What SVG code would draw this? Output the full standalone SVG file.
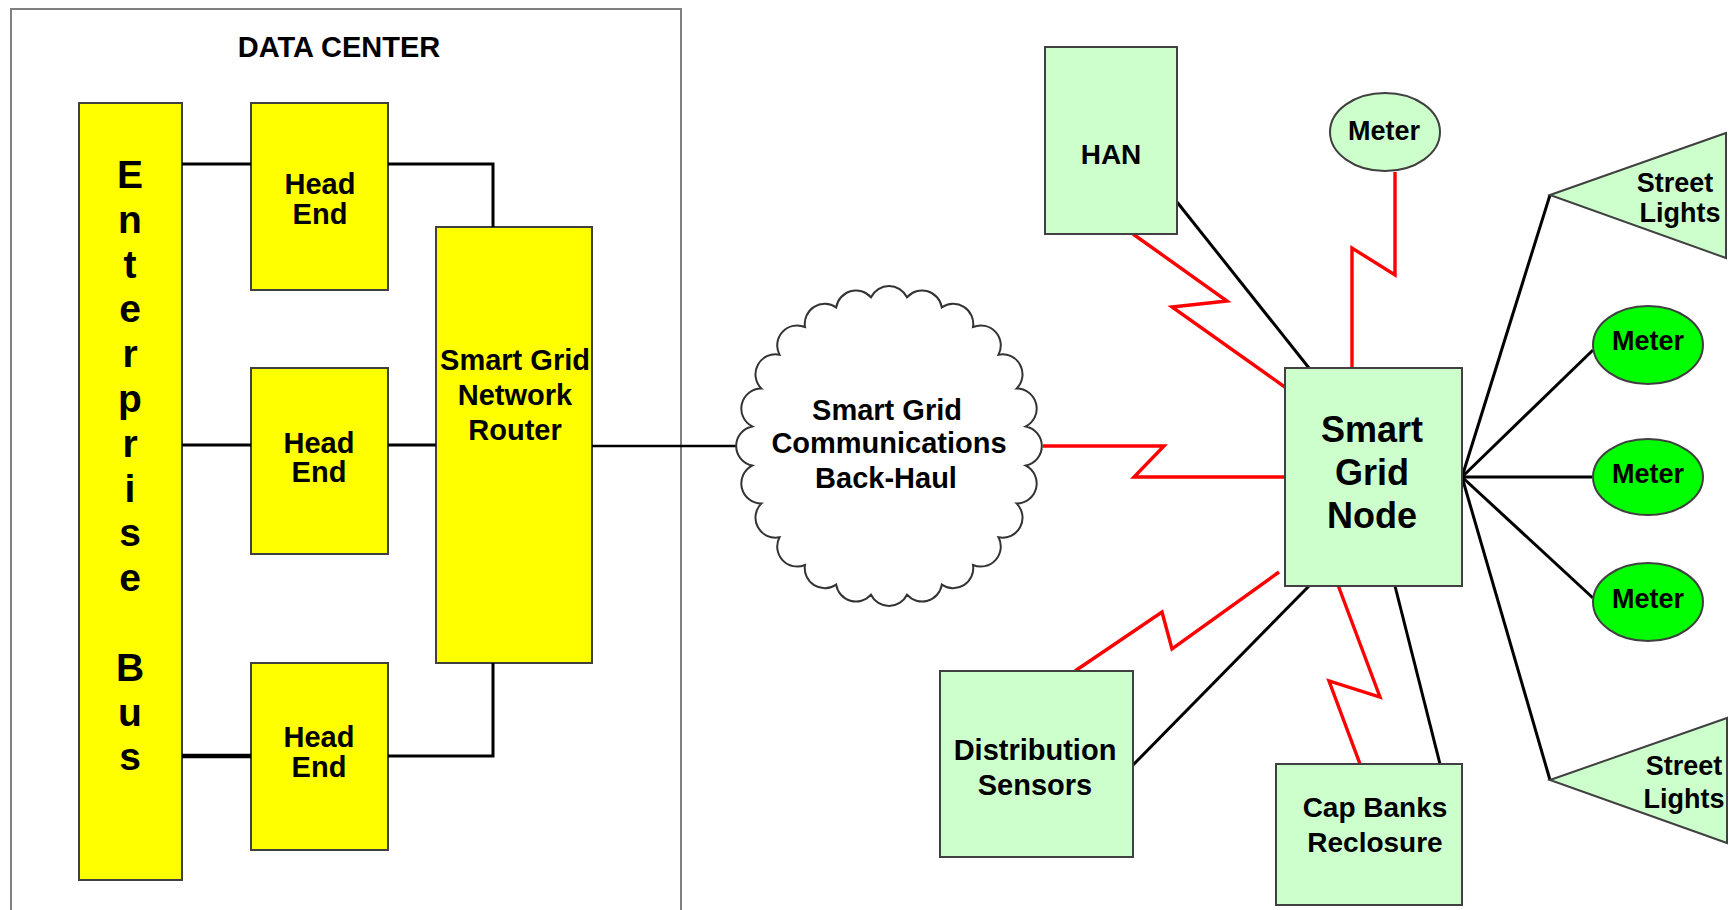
<svg xmlns="http://www.w3.org/2000/svg" width="1730" height="910" viewBox="0 0 1730 910">
<style>
text{font-family:"Liberation Sans",Arial,sans-serif;font-weight:bold;fill:#000;text-anchor:middle}
.yb{fill:#ffff00;stroke:#404040;stroke-width:2}
.gb{fill:#ccffcc;stroke:#404040;stroke-width:2}
.gm{fill:#00ff00;stroke:#404040;stroke-width:2}
.ln{fill:none;stroke:#000;stroke-width:3;stroke-linejoin:miter}
.rz{fill:none;stroke:#ff0000;stroke-width:3.4;stroke-linejoin:miter}
.f29{font-size:29px}
.f28{font-size:28px}
.f27{font-size:27px}
</style>
<rect width="1730" height="910" fill="#fff"/>
<g id="data-center">
<rect x="11" y="9" width="670" height="920" fill="#fff" stroke="#808080" stroke-width="2"/>
<text class="f29" x="339" y="57">DATA CENTER</text>
</g>
<g id="enterprise-bus">
<rect class="yb" x="79" y="103" width="103" height="777"/>
<g style="font-size:39px">
<text x="130" y="188">E</text>
<text x="130" y="232.8">n</text>
<text x="130" y="277.6">t</text>
<text x="130" y="322.4">e</text>
<text x="130" y="367.2">r</text>
<text x="130" y="412">p</text>
<text x="130" y="456.8">r</text>
<text x="130" y="501.6">i</text>
<text x="130" y="546.4">s</text>
<text x="130" y="591.2">e</text>
<text x="130" y="680.8">B</text>
<text x="130" y="725.6">u</text>
<text x="130" y="770.4">s</text>
</g>
</g>
<g id="head-end-1">
<rect class="yb" x="251" y="103" width="137" height="187"/>
<text class="f29" x="320" y="194">Head</text>
<text class="f29" x="320" y="224">End</text>
</g>
<g id="head-end-2">
<rect class="yb" x="251" y="368" width="137" height="186"/>
<text class="f29" x="319" y="453">Head</text>
<text class="f29" x="319" y="482">End</text>
</g>
<g id="head-end-3">
<rect class="yb" x="251" y="663" width="137" height="187"/>
<text class="f29" x="319" y="747">Head</text>
<text class="f29" x="319" y="777">End</text>
</g>
<g id="router">
<rect class="yb" x="436" y="227" width="156" height="436"/>
<text class="f29" x="515" y="370">Smart Grid</text>
<text class="f29" x="515" y="405">Network</text>
<text class="f29" x="515" y="440">Router</text>
</g>
<g id="connectors">
<polyline class="ln" points="182,164 251,164"/>
<polyline class="ln" points="388,164 493,164 493,227"/>
<polyline class="ln" points="182,445 251,445"/>
<polyline class="ln" points="388,445 436,445"/>
<polyline class="ln" points="592,446 736,446" style="stroke-width:2.4"/>
<polyline class="ln" points="182,756 251,756" style="stroke-width:4.5"/>
<polyline class="ln" points="388,756 493,756 493,663"/>
<polyline class="ln" points="1177,202 1309,368"/>
<polyline class="ln" points="1462,477 1550,195"/>
<polyline class="ln" points="1462,477 1593,350"/>
<polyline class="ln" points="1462,477 1592,477"/>
<polyline class="ln" points="1462,477 1593,598"/>
<polyline class="ln" points="1462,477 1550,780"/>
<polyline class="ln" points="1309,586 1133,765"/>
<polyline class="ln" points="1395,586 1440,764"/>
<polyline class="rz" points="1133,234 1227,301 1172,307 1289,390"/>
<polyline class="rz" points="1395,172 1395,275 1352,248 1352,377"/>
<polyline class="rz" points="1043,446 1164,446 1134,477 1285,477"/>
<polyline class="rz" points="1075,671 1162,612 1172,649 1279,572"/>
<polyline class="rz" points="1338,585 1380,697 1329,681 1363,772"/>
</g>
<g id="cloud">
<path fill="#fff" stroke="#333" stroke-width="2" d="M1025.8,426.4 A20,20 0 0 1 1025.8,465.6 A20,20 0 0 1 1016.5,503.4 A20,20 0 0 1 998.5,537.3 A20,20 0 0 1 973,565 A20,20 0 0 1 941.8,584.6 A20,20 0 0 1 907,594.7 A20,20 0 0 1 871,594.7 A20,20 0 0 1 836.2,584.6 A20,20 0 0 1 805,565 A20,20 0 0 1 779.5,537.3 A20,20 0 0 1 761.5,503.4 A20,20 0 0 1 752.2,465.6 A20,20 0 0 1 752.2,426.4 A20,20 0 0 1 761.5,388.6 A20,20 0 0 1 779.5,354.7 A20,20 0 0 1 805,327 A20,20 0 0 1 836.2,307.4 A20,20 0 0 1 871,297.3 A20,20 0 0 1 907,297.3 A20,20 0 0 1 941.8,307.4 A20,20 0 0 1 973,327 A20,20 0 0 1 998.5,354.7 A20,20 0 0 1 1016.5,388.6 A20,20 0 0 1 1025.8,426.4 Z"/>
<text class="f29" x="887" y="420">Smart Grid</text>
<text class="f29" x="889" y="453">Communications</text>
<text class="f29" x="886" y="488">Back-Haul</text>
</g>
<g id="han">
<rect class="gb" x="1045" y="47" width="132" height="187"/>
<text class="f28" x="1111" y="164">HAN</text>
</g>
<g id="meter-top">
<ellipse class="gb" cx="1385" cy="132" rx="55" ry="39"/>
<text class="f27" x="1384" y="140">Meter</text>
</g>
<g id="street-lights-top">
<polygon class="gb" points="1550,195 1726,133 1726,258"/>
<text class="f27" x="1675" y="192">Street</text>
<text class="f27" x="1680" y="222">Lights</text>
</g>
<g id="meter-1">
<ellipse class="gm" cx="1648" cy="345" rx="55" ry="39"/>
<text class="f27" x="1648" y="350">Meter</text>
</g>
<g id="meter-2">
<ellipse class="gm" cx="1648" cy="477" rx="55" ry="38"/>
<text class="f27" x="1648" y="483">Meter</text>
</g>
<g id="meter-3">
<ellipse class="gm" cx="1648" cy="602" rx="55" ry="39"/>
<text class="f27" x="1648" y="608">Meter</text>
</g>
<g id="street-lights-bottom">
<polygon class="gb" points="1550,780 1727,718 1727,843"/>
<text class="f27" x="1684" y="775">Street</text>
<text class="f27" x="1684" y="808">Lights</text>
</g>
<g id="smart-grid-node">
<rect class="gb" x="1285" y="368" width="177" height="218"/>
<text x="1372" y="442" style="font-size:36px">Smart</text>
<text x="1372" y="485" style="font-size:36px">Grid</text>
<text x="1372" y="528" style="font-size:36px">Node</text>
</g>
<g id="distribution-sensors">
<rect class="gb" x="940" y="671" width="193" height="186"/>
<text class="f29" x="1035" y="760">Distribution</text>
<text class="f29" x="1035" y="795">Sensors</text>
</g>
<g id="cap-banks">
<rect class="gb" x="1276" y="764" width="186" height="141"/>
<text class="f28" x="1375" y="817">Cap Banks</text>
<text class="f28" x="1375" y="852">Reclosure</text>
</g>
</svg>
